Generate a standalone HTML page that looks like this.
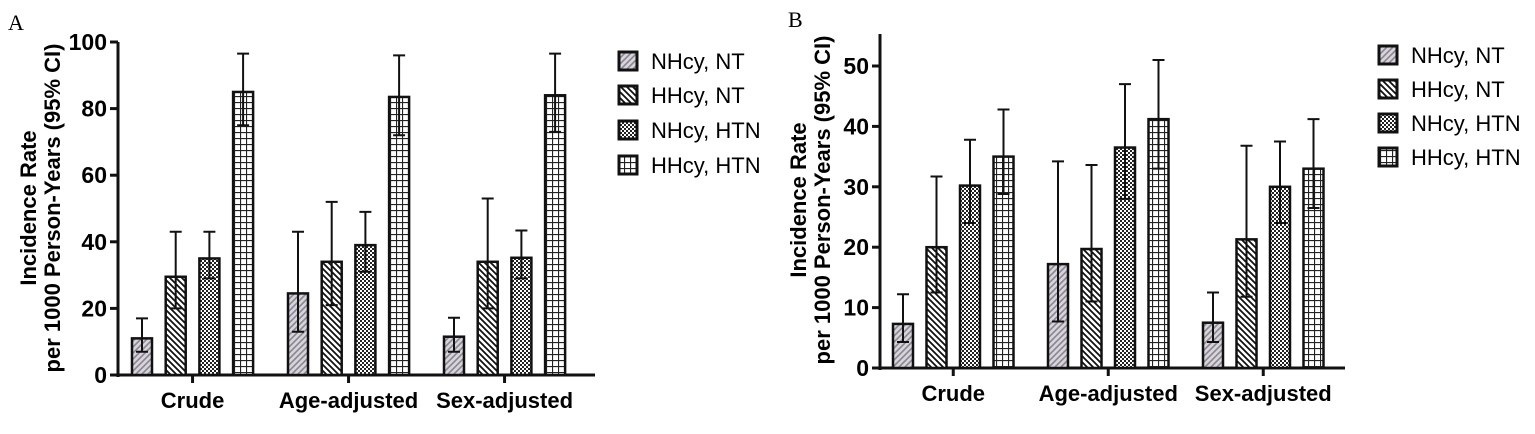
<!DOCTYPE html>
<html><head><meta charset="utf-8"><style>
body{margin:0;background:#fff;width:1535px;height:429px;overflow:hidden}
svg{font-family:"Liberation Sans",Arial,sans-serif}
</style></head><body>
<svg id="root" width="1535" height="429" xmlns="http://www.w3.org/2000/svg">
<defs>
<pattern id="p0" width="6" height="6" patternUnits="userSpaceOnUse"><rect width="6" height="6" fill="#d8d4dc"/><path d="M-1,7 L7,-1 M-1,1 L1,-1 M5,7 L7,5" stroke="#8a8590" stroke-width="1.6"/></pattern>
<pattern id="p1" width="6" height="6" patternUnits="userSpaceOnUse"><rect width="6" height="6" fill="#fff"/><path d="M-1,-1 L7,7 M5,-1 L7,1 M-1,5 L1,7" stroke="#111" stroke-width="1.8"/></pattern>
<pattern id="p2" width="4" height="4" patternUnits="userSpaceOnUse"><rect width="4" height="4" fill="#fff"/><rect width="2" height="2" fill="#222"/><rect x="2" y="2" width="2" height="2" fill="#222"/></pattern>
<pattern id="p3" width="6" height="6" patternUnits="userSpaceOnUse"><rect width="6" height="6" fill="#fff"/><path d="M0,0.5 H6 M0.5,0 V6" stroke="#222" stroke-width="1.2"/></pattern>
</defs>
<text x="8" y="30" font-family="Liberation Serif" font-size="22">A</text>
<text x="788" y="27" font-family="Liberation Serif" font-size="22">B</text>
</svg>
<script>
const categories=["Crude","Age-adjusted","Sex-adjusted"];
const seriesNames=["NHcy, NT","HHcy, NT","NHcy, HTN","HHcy, HTN"];
const aVals=[[11,24.5,11.5],[29.5,34,34],[35,39,35.2],[85,83.5,84]];
const aLo=[[7,13,7],[20,21,20],[29,31,29],[75,72,73]];
const aHi=[[17,43,17.2],[43,52,53],[43,49,43.4],[96.5,96,96.5]];
const aTicks=[0,20,40,60,80,100];
const bVals=[[7.3,17.2,7.5],[20,19.7,21.3],[30.2,36.5,30],[35,41.2,33]];
const bLo=[[4.3,7.7,4.3],[12.5,11,11.8],[24,28,24],[28.8,33,26.5]];
const bHi=[[12.2,34.2,12.5],[31.7,33.6,36.8],[37.8,47,37.5],[42.8,51,41.2]];
const bTicks=[0,10,20,30,40,50];
const NS="http://www.w3.org/2000/svg";
const root=document.getElementById('root');
function mk(tag,at,parent){const e=document.createElementNS(NS,tag);for(const k in at)e.setAttribute(k,at[k]);(parent||root).appendChild(e);return e;}
function panel(o){
  const g=mk('g',{});
  
  
  const y=v=>o.y0-(v/o.ymax)*(o.y0-o.ytop);
  const ya=mk('line',{x1:o.ax,x2:o.ax,y1:o.axTop,y2:o.y0+2,stroke:'#111','stroke-width':3},g);
  
  const xa=mk('line',{x1:o.ax-1,x2:o.axEnd,y1:o.y0,y2:o.y0,stroke:'#111','stroke-width':3},g);
  
  o.ticks.forEach(t=>{
    mk('line',{x1:o.ax-8,x2:o.ax,y1:y(t),y2:y(t),stroke:'#111','stroke-width':3},g);
    const tl=mk('text',{x:o.ax-11,y:y(t)+8,'text-anchor':'end','font-size':23,'font-weight':'bold'},g);
    tl.textContent=t;
    
  });
  categories.forEach((c,ci)=>{
    const gx=o.gx0+ci*o.gpitch;
    const cx=gx+1.5*o.bpitch+o.bw/2;
    mk('line',{x1:cx,x2:cx,y1:o.y0,y2:o.y0+8,stroke:'#111','stroke-width':3},g);
    const cl=mk('text',{x:cx,y:o.y0+33,'text-anchor':'middle','font-size':22,'font-weight':'bold'},g);
    cl.textContent=c;
    
    for(let s=0;s<4;s++){
      const bx=gx+s*o.bpitch;
      const r=mk('rect',{x:bx,y:y(o.vals[s][ci]),width:o.bw,height:o.y0-y(o.vals[s][ci]),fill:'url(#p'+s+')',stroke:'#111','stroke-width':2.5},g);
      
      const mx=bx+o.bw/2;
      const eb=mk('path',{d:`M${mx},${y(o.lo[s][ci])}V${y(o.hi[s][ci])}M${mx-6},${y(o.hi[s][ci])}H${mx+6}M${mx-6},${y(o.lo[s][ci])}H${mx+6}`,stroke:'#111','stroke-width':2,fill:'none'},g);
      
    }
  });
  const tt=mk('text',{transform:`translate(${o.tx},${o.ty}) rotate(-90)`,'text-anchor':'middle','font-size':22,'font-weight':'bold'},g);
  
  const t1=mk('tspan',{x:0,dy:0},tt);t1.textContent='Incidence Rate';
  const t2=mk('tspan',{x:0,dy:24},tt);t2.textContent='per 1000 Person-Years (95% CI)';
  seriesNames.forEach((n,s)=>{
    const ly=o.legY[s];
    const le=mk('g',{},g);
    
    mk('rect',{x:o.legX,y:ly-9,width:18,height:18,fill:'url(#p'+s+')',stroke:'#111','stroke-width':3},le);
    const lt=mk('text',{x:o.legX+32,y:ly+8,'font-size':22},le);lt.textContent=n;
  });
}
panel({name:'chart-a',ax:118,axTop:42,axEnd:595,y0:375,ytop:42,ymax:100,ticks:aTicks,vals:aVals,lo:aLo,hi:aHi,gx0:132,gpitch:156,bpitch:33.7,bw:20,tx:36,ty:208,legX:619,legY:[61,95,130,165]});
panel({name:'chart-b',ax:880,axTop:34,axEnd:1345,y0:368,ytop:66,ymax:50,ticks:bTicks,vals:bVals,lo:bLo,hi:bHi,gx0:893,gpitch:155,bpitch:33.5,bw:20,tx:806,ty:200,legX:1379,legY:[55,89,123,157]});
</script>
</body></html>
